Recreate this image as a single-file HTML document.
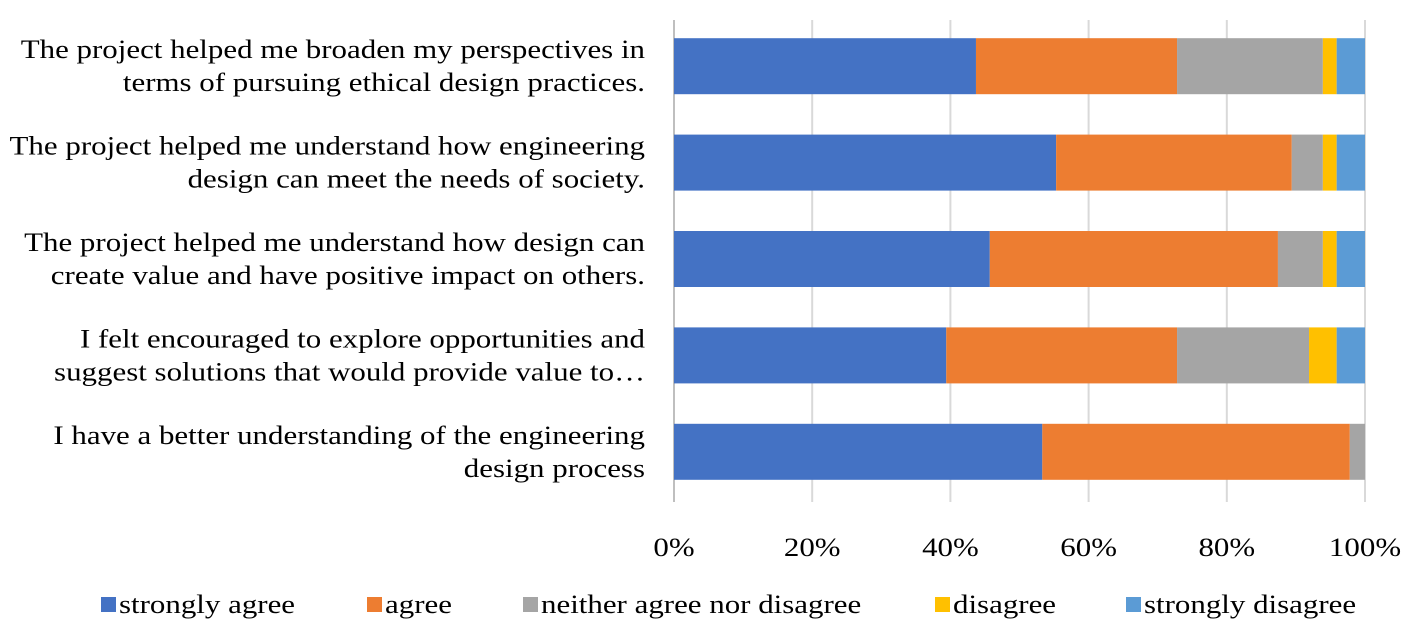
<!DOCTYPE html>
<html><head><meta charset="utf-8">
<style>
html,body{margin:0;padding:0;background:#fff;}
svg text{font-family:"Liberation Serif",serif;font-size:26px;fill:#000;}
</style></head>
<body>
<svg width="1418" height="632" xmlns="http://www.w3.org/2000/svg">
<g id="grid"></g><g id="bars"></g><g id="labels"></g><g id="ticks"></g><g id="legend"></g>
</svg>
<script>
const categories = [
 ["The project helped me broaden my perspectives in","terms of pursuing ethical design practices."],
 ["The project helped me understand how engineering","design can meet the needs of society."],
 ["The project helped me understand how design can","create value and have positive impact on others."],
 ["I felt encouraged to explore opportunities and","suggest solutions that would provide value to…"],
 ["I have a better understanding of the engineering","design process"]
];
const seriesNames = ["strongly agree","agree","neither agree nor disagree","disagree","strongly disagree"];
const stronglyAgree = [43.7,55.3,45.7,39.4,53.3];
const agree = [29.1,34.1,41.7,33.4,44.5];
const neither = [21.1,4.5,6.5,19.1,2.2];
const disagree = [2.0,2.0,2.0,4.0,0];
const stronglyDisagree = [4.1,4.1,4.1,4.1,0];
const tickLabels = ["0%","20%","40%","60%","80%","100%"];
const tickValues = [0,20,40,60,80,100];

const colors = ["#4472C4","#ED7D31","#A5A5A5","#FFC000","#5B9BD5"];
const series = [stronglyAgree,agree,neither,disagree,stronglyDisagree];
const NS="http://www.w3.org/2000/svg";
const SX=1.19;
const x0=674,x1=1365,yTop=20,yBot=502;
const xs=v=>x0+(x1-x0)*v/100;
const band=(yBot-yTop)/categories.length;
const yc=i=>yTop+band*(i+0.5)-2;
const barH=56;
function mk(tag,attrs,parent){const e=document.createElementNS(NS,tag);for(const k in attrs)e.setAttribute(k,attrs[k]);parent.appendChild(e);return e;}
function txt(x,y,anchor,s,parent){const t=mk('text',{x:0,y:0,'text-anchor':anchor,transform:`translate(${x},${y}) scale(${SX},1)`},parent);t.textContent=s;return t;}
const grid=document.getElementById('grid'),bars=document.getElementById('bars'),labels=document.getElementById('labels'),ticks=document.getElementById('ticks'),legend=document.getElementById('legend');
tickValues.forEach((v,i)=>{
 const l=mk('line',{x1:xs(v),x2:xs(v),y1:yTop,y2:yBot,stroke:i==0?'#BFBFBF':'#D9D9D9','stroke-width':2},grid);
 
 
 const t=txt(xs(v),556,'middle',tickLabels[i],ticks);
 
 
});
categories.forEach((c,i)=>{
 let acc=0;
 series.forEach((s,j)=>{
  const v=s[i];
  if(v>0){
   const r=mk('rect',{x:xs(acc),y:yc(i)-barH/2,width:xs(acc+v)-xs(acc),height:barH,fill:colors[j]},bars);
   
   
  }
  acc+=v;
 });
 c.forEach((line,k)=>{
  const t=txt(645,yc(i)-8+k*33,'end',line,labels);
  
  
 });
});
const legX=[101,367,523,935,1126];
seriesNames.forEach((n,j)=>{
 const g=mk('g',{},legend);
 
 
 mk('rect',{x:legX[j],y:597,width:15,height:15,fill:colors[j]},g);
 txt(legX[j]+18,613,'start',n,g);
});
</script>
</body></html>
